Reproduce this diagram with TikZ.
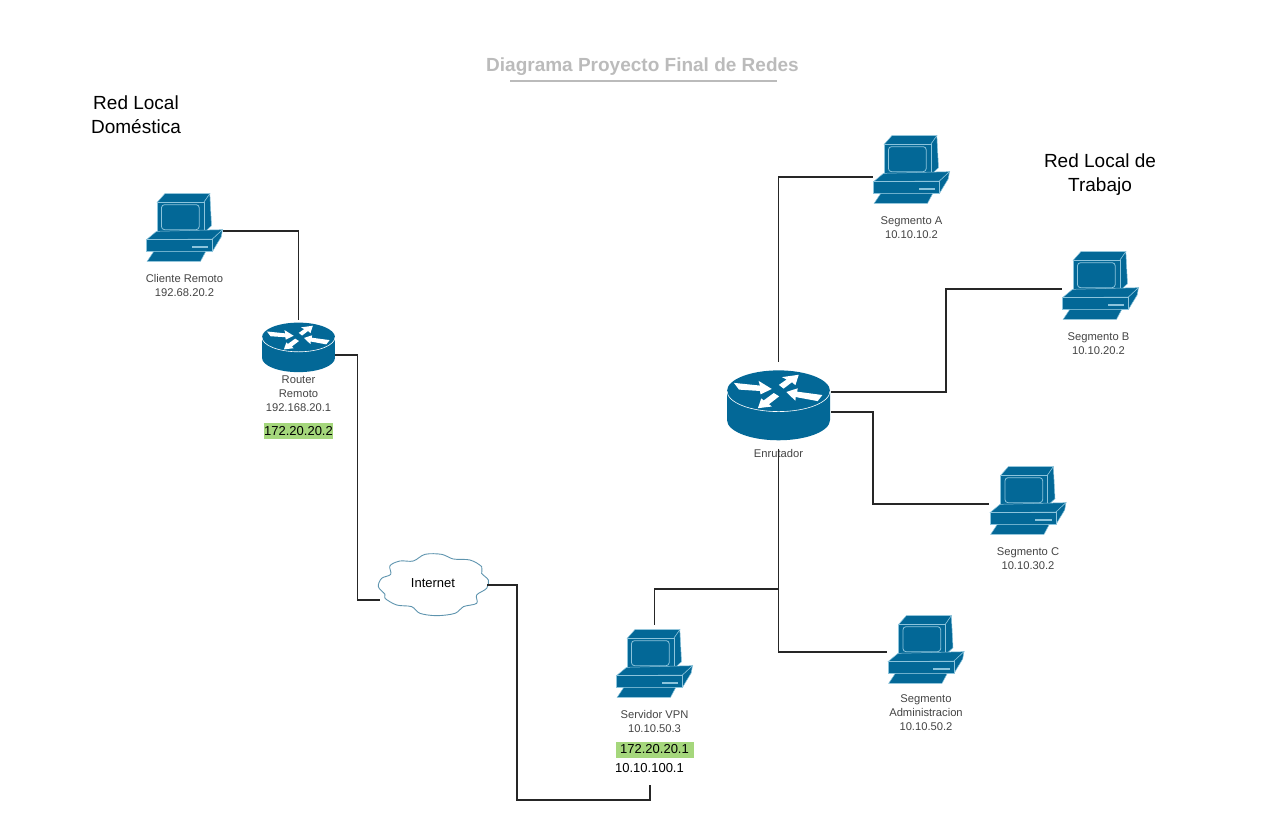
\documentclass[tikz,border=0pt]{standalone}
\usepackage{fontspec}
\setmainfont{Liberation Sans}
\definecolor{ciscoblue}{HTML}{036897}
\definecolor{ciscoline}{HTML}{8CC4DC}
\definecolor{cloudline}{HTML}{5E94AE}
\definecolor{labelgray}{HTML}{444444}
\definecolor{titlegray}{HTML}{BBBBBB}
\definecolor{ipgreen}{HTML}{A5D77C}
\tikzset{computer/.pic={
        \node [inner sep=0pt,minimum width=77pt,minimum height=69pt] (-box) {};
        \begin{scope}[x=.3333pt,y=-.3333pt,draw=ciscoline,line width=.5pt,fill=ciscoblue]
        \filldraw (-82,-75.5) -- (-59,-101.5) -- (76,-101.5) -- (58,-75.5) -- cycle;
        \filldraw (58,-75.5) -- (76,-101.5) -- (81,-5.5) -- (58,16.5) -- cycle;
        \filldraw (-82,-75.5) rectangle (58,16.5);
        \draw [line width=.8pt,rounded corners=3pt] (-69,-68.5) rectangle (44,6.5);
        \filldraw (-114,36.5) -- (-84,11.5) -- (114,6.5) -- (84,34.5) -- cycle;
        \filldraw (84,34.5) -- (114,6.5) -- (110,28.5) -- (84,71.5) -- cycle;
        \filldraw (-114,36.5) rectangle (84,71.5);
        \fill [ciscoline] (21,54.5) rectangle (71,60.5);
        \filldraw (-112,101.5) -- (-92,71.5) -- (64,71.5) -- (48,101.5) -- cycle;
        \end{scope}
    },
    router/.pic={
        \node [inner sep=0pt,minimum width=#1*305pt,minimum height=#1*207pt] (-box) {};
        \begin{scope}[x=#1pt,y=-#1pt]
        \fill [ciscoblue] (-152.5,-43) -- (-152.5,43) arc[start angle=180,end angle=0,x radius=152.5,y radius=60] -- (152.5,-43) arc[start angle=0,end angle=-180,x radius=152.5,y radius=61] -- cycle;
        \draw [white,line width=.6pt] (-152.5,-43) arc[start angle=180,end angle=0,x radius=152.5,y radius=61];
        \fill [white] (-132,-67) -- (-55,-59) -- (-59,-73) -- (-20,-49) -- (-53,-33) -- (-55,-43) -- (-117,-47) -- cycle;
        \fill [white] (1,-61) -- (24,-77) -- (10,-84) -- (60,-91) -- (50,-60) -- (40,-69) -- (15,-50) -- cycle;
        \fill [white] (23,-40) -- (57,-51) -- (55,-41) -- (130,-31) -- (116,-13) -- (51,-25) -- (50,-14) -- cycle;
        \fill [white] (-61,8) -- (-51,-21) -- (-44,-15) -- (-14,-37) -- (2,-27) -- (-28,-4) -- (-20,3) -- cycle;
        \end{scope}
    },
    netcloud/.pic={
        \node [inner sep=0pt,minimum width=110pt,minimum height=62pt,font=\fontsize{13}{15}\selectfont] (-box) {Internet};
        \begin{scope}[x=.3333pt,y=-.3333pt]
        \draw [cloudline,line width=.9pt] plot [smooth cycle,tension=.55] coordinates {(-164,11) (-154,-14) (-127,-26) (-129,-52) (-99,-66) (-59,-66) (-24,-86) (26,-86) (61,-72) (111,-69) (146,-49) (146,-29) (166,-9) (161,16) (131,36) (131,61) (91,71) (66,91) (11,98) (-39,91) (-64,71) (-109,66) (-144,46) (-144,34)};
        \end{scope}
    },
    hostlabel/.style={align=center,text=labelgray,font=\fontsize{11.2}{14}\selectfont,inner sep=0pt},
    zonelabel/.style={align=center,text=black,font=\fontsize{19}{24}\selectfont,inner sep=0pt},
    iptext/.style={text=black,font=\fontsize{13}{15}\selectfont,inner sep=0pt},
    ipbox/.style={iptext,fill=ipgreen,minimum height=16pt},
    link/.style={draw=black!85,line width=1.1pt},
    node distance=58pt}

\begin{document}
\begin{tikzpicture}[x=1pt,y=-1pt]
    \useasboundingbox (0,0) rectangle (1280,821);

    \node [font=\bfseries\fontsize{19}{24}\selectfont, text=titlegray, inner sep=0pt] (title) at (642.5,67) {Diagrama Proyecto Final de Redes};
    \coordinate (ruleL) at (510,81);
    \coordinate (ruleR) at (777,81);
    \draw [titlegray, line width=1.3pt] (ruleL) -- (ruleR);

    \node [zonelabel] (zoneHome) at (136,114.5) {Red Local\\Doméstica};
    \node [zonelabel] (zoneWork) at (1100,174.5) {Red Local de\\Trabajo};

    \pic (cliente) at (184.5,227.5) {computer};
    \node [hostlabel, below of = cliente-box] (clienteLabel) {Cliente Remoto\\192.68.20.2};
    \pic (routerRemoto) at (298.5,347.5) {router=0.2393};
    \node [hostlabel, below of = routerRemoto-box, yshift = 11.5pt] (routerLabel) {Router\\Remoto\\192.168.20.1};
    \node [ipbox, minimum width=67pt, below of = routerLabel, yshift = 21pt] (routerIp) {172.20.20.2};

    \pic (internet) at (433,583) {netcloud};

    \pic (enrutador) at (778.5,405.5) {router=0.3377};
    \node [hostlabel, below of = enrutador-box, yshift = 10.5pt] (enrutadorLabel) {Enrutador};

    \pic (segA) at (911.5,169.5) {computer};
    \node [hostlabel, below of = segA-box] (segALabel) {Segmento A\\10.10.10.2};
    \pic (segB) at (1100.5,285.5) {computer};
    \node [hostlabel, below of = segB-box, xshift = -2pt] (segBLabel) {Segmento B\\10.10.20.2};
    \pic (segC) at (1028,500.5) {computer};
    \node [hostlabel, below of = segC-box] (segCLabel) {Segmento C\\10.10.30.2};
    \pic (segAdmin) at (926,649.5) {computer};
    \node [hostlabel, below of = segAdmin-box, yshift = -5.5pt] (segAdminLabel) {Segmento\\Administracion\\10.10.50.2};
    \pic (vpn) at (654.5,663.5) {computer};
    \node [hostlabel, below of = vpn-box] (vpnLabel) {Servidor VPN\\10.10.50.3};
    \node [ipbox, minimum width=78pt, below of = vpnLabel, yshift = 30pt] (vpnIp) {172.20.20.1};
    \node [iptext, below of = vpnIp, yshift = 39pt, xshift = -5pt] (vpnIpB) {10.10.100.1};

    \coordinate (vpnEnd) at (650,785);
    \coordinate (vpnTurn) at (517,800);
    \coordinate (joint) at (778.5,589);
    \coordinate (cloudIn) at (380,600);
    \coordinate (cloudOut) at (487,585);
    \coordinate (portB) at (831,392);
    \coordinate (portC) at (831,412);
    \coordinate (turnB) at (946,392);
    \coordinate (turnC) at (873,412);

    \draw [link] ([yshift=-3.5pt]cliente-box.east) -| ([yshift=3pt]routerRemoto-box.north);
    \draw [link] ([yshift=-7.5pt]routerRemoto-box.east) -- ++(22,0) |- (cloudIn);
    \draw [link] (cloudOut) -| (vpnTurn) -| (vpnEnd);
    \draw [link] ([yshift=-7.5pt]segA-box.west) -| ([yshift=8pt]enrutador-box.north);
    \draw [link] ([yshift=-3.5pt]segB-box.west) -| (turnB) -- (portB);
    \draw [link] (portC) -- (turnC) |- ([yshift=-3.5pt]segC-box.west);
    \draw [link] ([yshift=-8pt]enrutador-box.south) -- (joint);
    \draw [link] (joint) |- ([yshift=-2.5pt]segAdmin-box.west);
    \draw [link] (joint) -| ([yshift=4pt]vpn-box.north);
\end{tikzpicture}
\end{document}
